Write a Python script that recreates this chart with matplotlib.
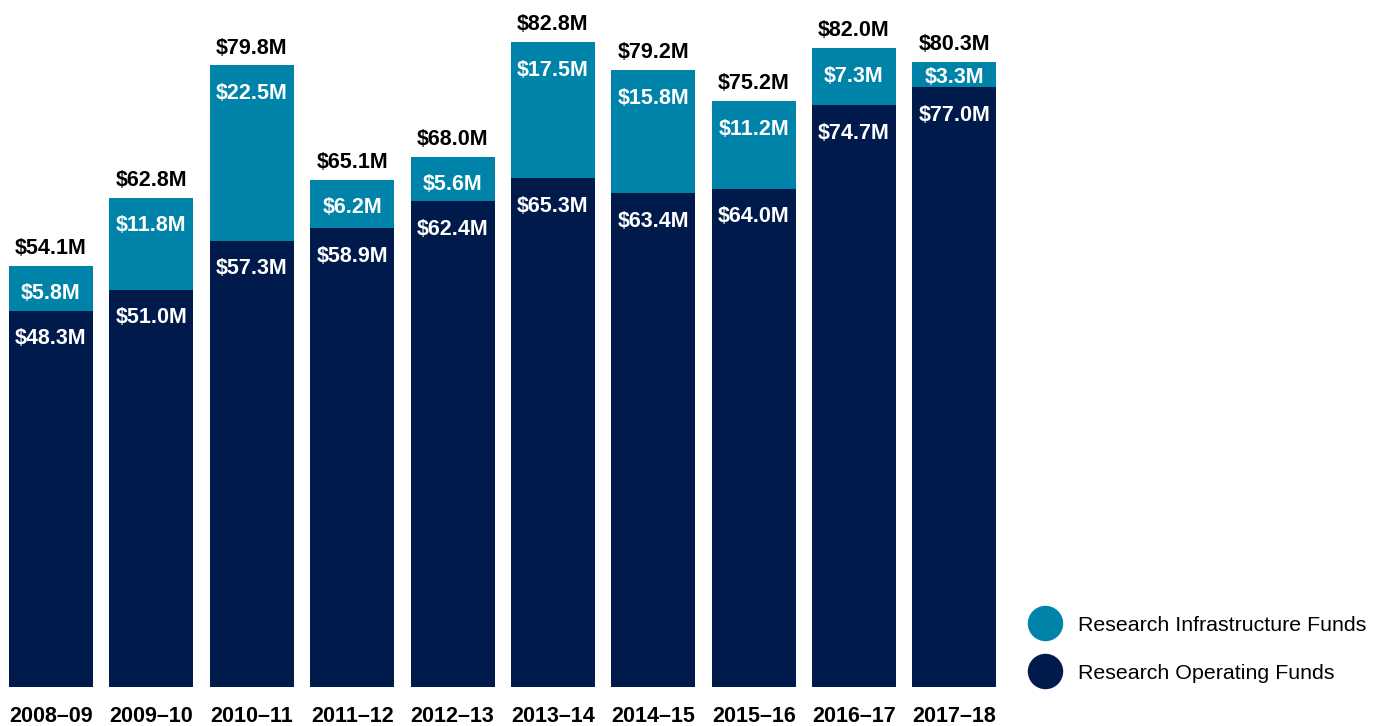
import matplotlib.pyplot as plt
from matplotlib.lines import Line2D

plt.rcParams['font.family'] = ['Liberation Sans', 'DejaVu Sans']

years = ["2008–09", "2009–10", "2010–11", "2011–12", "2012–13",
         "2013–14", "2014–15", "2015–16", "2016–17", "2017–18"]
operating = [48.3, 51.0, 57.3, 58.9, 62.4, 65.3, 63.4, 64.0, 74.7, 77.0]
infrastructure = [5.8, 11.8, 22.5, 6.2, 5.6, 17.5, 15.8, 11.2, 7.3, 3.3]
totals = [54.1, 62.8, 79.8, 65.1, 68.0, 82.8, 79.2, 75.2, 82.0, 80.3]

navy = "#001b4b"
teal = "#0083a9"

fig = plt.figure(figsize=(13.77, 7.26), dpi=100)
ax = fig.add_axes([0.0006, 0.0537, 0.729, 0.9463])

x = range(len(years))
ax.bar(x, operating, width=0.837, color=navy)
ax.bar(x, infrastructure, width=0.837, bottom=operating, color=teal)

# labels inside the segments, a bit below the top of each segment
off = 3.6
for i in x:
    top_op = operating[i]
    ax.text(i, top_op - off, "$%.1fM" % operating[i], ha='center', va='center',
            color='white', fontsize=15.5, fontweight='bold')
    top_all = operating[i] + infrastructure[i]
    ax.text(i, top_all - min(off, 0.62 * infrastructure[i]), "$%.1fM" % infrastructure[i],
            ha='center', va='center', color='white', fontsize=15.5, fontweight='bold')
    ax.annotate("$%.1fM" % totals[i], (i, top_all), xytext=(0, 12.5), textcoords='offset points',
                ha='center', va='center', color='black', fontsize=15.5, fontweight='bold')

ax.set_xlim(-0.5, 9.5)
ax.set_ylim(0, 88.2)
ax.set_xticks(list(x))
ax.set_xticklabels(years, fontsize=15.5, fontweight='bold')
ax.tick_params(axis='x', length=0, pad=13.5)
ax.set_yticks([])
for s in ax.spines.values():
    s.set_visible(False)

handles = [Line2D([], [], marker='o', linestyle='', markersize=24.5, color=teal),
           Line2D([], [], marker='o', linestyle='', markersize=24.5, color=navy)]
fig.legend(handles, ["Research Infrastructure Funds", "Research Operating Funds"],
           loc='lower left', bbox_to_anchor=(0.7271, 0.033), frameon=False,
           fontsize=15.4, labelspacing=1.35, handletextpad=0.4, handlelength=2.3)

fig.savefig("out.png", dpi=100)
